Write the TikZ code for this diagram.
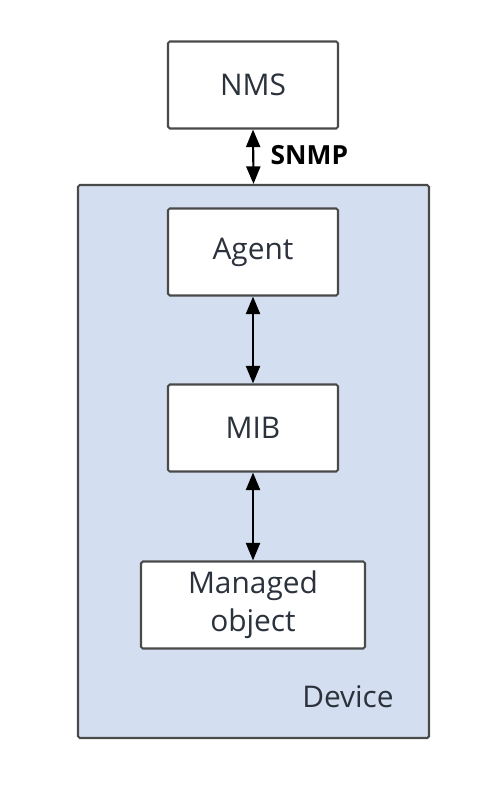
\documentclass[tikz,border=0pt]{standalone}
\usepackage{fontspec}
\setmainfont{Open Sans}
\usetikzlibrary{arrows.meta}
\definecolor{devfill}{HTML}{D3DFF0}
\definecolor{boxline}{HTML}{4A4A4A}
\definecolor{txt}{HTML}{2B323C}
\tikzset{
  unit/.style={draw=boxline,line width=1.2pt,fill=white,rounded corners=1pt,
    minimum width=3.4cm,minimum height=1.74cm,align=center,text=txt,
    font=\fontsize{17}{21.5}\selectfont},
  link/.style={{Triangle[width=8pt,length=10pt]}-{Triangle[width=8pt,length=10pt]},
    line width=1.2pt,black}
}
\begin{document}
\begin{tikzpicture}
  % canvas 502x790 px, 1 px = 0.02 cm
  \useasboundingbox (0,0) rectangle (10.04,-15.8);

  % Device frame
  \node[draw=boxline,line width=1.2pt,fill=devfill,rounded corners=1pt,
    minimum width=7.02cm,minimum height=11.06cm] (device) at (5.07,-9.23) {};
  \node[text=txt,font=\fontsize{17}{21}\selectfont] (devlbl) at (6.96,-13.94) {Device};

  % Boxes
  \node[unit] (nms) at (5.06,-1.70) {NMS};
  \node[unit] (agent) at (5.06,-5.04) {Agent};
  \node[unit] (mib) at (5.06,-8.56) {MIB};
  \node[unit,minimum width=4.48cm] (obj) at (5.06,-12.10) {Managed\\object};

  % Links
  \draw[link] (nms.south) -- (device.north)
    node[midway,right,xshift=6pt,yshift=1pt,font=\bfseries\fontsize{15}{18}\selectfont] (snmp) {SNMP};
  \draw[link] (agent.south) -- (mib.north);
  \draw[link] (mib.south) -- (obj.north);
\end{tikzpicture}
\end{document}
